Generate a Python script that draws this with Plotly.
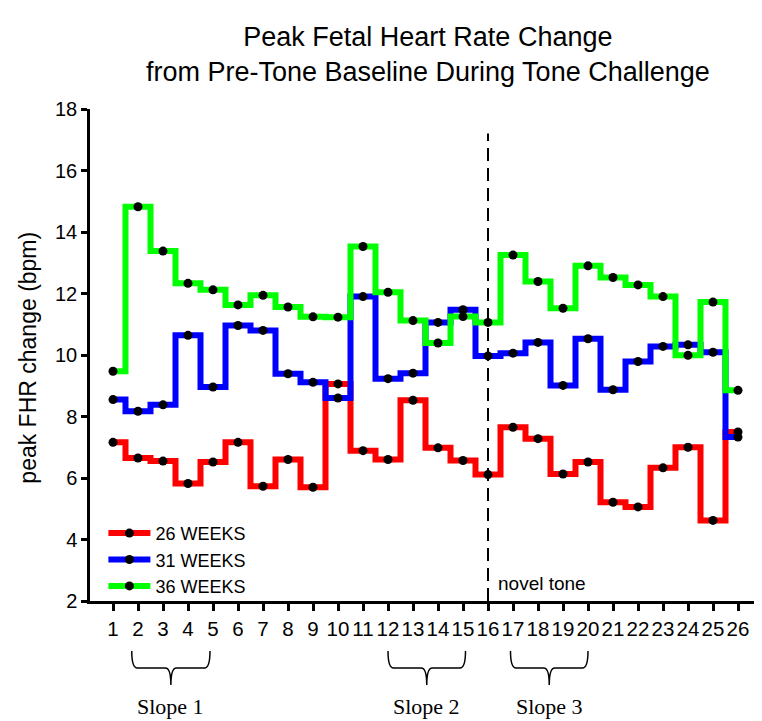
import plotly.graph_objects as go

# ---- data ----
trials = list(range(1, 27))
weeks26 = [7.16, 6.65, 6.55, 5.82, 6.52, 7.16, 5.73, 6.60, 5.70, 9.06, 6.89, 6.60, 8.53,
           6.98, 6.57, 6.11, 7.65, 7.28, 6.13, 6.52, 5.21, 5.06, 6.33, 7.00, 4.62, 7.50]
weeks31 = [8.55, 8.17, 8.38, 10.64, 8.96, 10.96, 10.80, 9.39, 9.11, 8.60, 11.90, 9.23, 9.41,
           11.06, 11.47, 9.97, 10.06, 10.41, 9.01, 10.53, 8.87, 9.79, 10.28, 10.33, 10.09, 7.33]
weeks36 = [9.47, 14.82, 13.38, 12.33, 12.12, 11.63, 11.94, 11.56, 11.24, 11.23, 13.53, 12.04, 11.12,
           10.39, 11.25, 11.06, 13.25, 12.39, 11.52, 12.90, 12.52, 12.28, 11.90, 9.99, 11.72, 8.85]
series_names = ["26 WEEKS", "31 WEEKS", "36 WEEKS"]
series_colors = ["#ff0000", "#0000ff", "#00ff00"]
y_ticks = [2, 4, 6, 8, 10, 12, 14, 16, 18]
novel_tone_trial = 16
novel_tone_top = 17.2
slope_labels = ["Slope 1", "Slope 2", "Slope 3"]
slope_starts = [1.75, 12.0, 16.9]
slope_ends = [4.88, 15.1, 20.0]

FONT = "Liberation Sans, Arial, sans-serif"
SERIF = "Liberation Serif, Times New Roman, serif"

fig = go.Figure()
for name, col, vals in zip(series_names, series_colors, [weeks26, weeks31, weeks36]):
    fig.add_trace(go.Scatter(
        x=trials, y=vals, name=name, mode="lines+markers",
        line=dict(color=col, width=6, shape="hvh"),
        marker=dict(color="black", size=9, line=dict(width=0)),
    ))

# dashed novel-tone marker
fig.add_shape(type="line", xref="x", yref="y", x0=novel_tone_trial, x1=novel_tone_trial,
              y0=y_ticks[0], y1=novel_tone_top, line=dict(color="black", width=2, dash="13px,7px"))
fig.add_annotation(x=novel_tone_trial + 0.3, y=2.58, xref="x", yref="y", text="novel tone",
                   showarrow=False, xanchor="left", yanchor="middle",
                   font=dict(family=FONT, size=19, color="black"))

# braces
yTop, yMid, yTip = -0.1016, -0.136, -0.1707
r = 0.22
for lab, s, e in zip(slope_labels, slope_starts, slope_ends):
    c = (s + e) / 2
    path = (f"M {s},{yTop} Q {s},{yMid} {s + r},{yMid} L {c - r},{yMid} "
            f"Q {c},{yMid} {c},{yTip} Q {c},{yMid} {c + r},{yMid} L {e - r},{yMid} "
            f"Q {e},{yMid} {e},{yTop}")
    fig.add_shape(type="path", xref="x", yref="paper", path=path,
                  line=dict(color="black", width=1.5))
    fig.add_annotation(x=c, y=-0.215, xref="x", yref="paper", text=lab, showarrow=False,
                       xanchor="center", yanchor="middle",
                       font=dict(family=SERIF, size=22, color="black"))

# y axis title
fig.add_annotation(x=-0.093, y=0.494, xref="paper", yref="paper", text="peak FHR change (bpm)",
                   textangle=-90, showarrow=False, xanchor="center", yanchor="middle",
                   font=dict(family=FONT, size=23, color="black"))

fig.update_layout(
    width=762, height=721,
    margin=dict(l=82, r=10, t=101, b=128, autoexpand=False),
    paper_bgcolor="white", plot_bgcolor="white",
    title=dict(text="Peak Fetal Heart Rate Change<br>from Pre-Tone Baseline During Tone Challenge",
               x=0.551, xanchor="center", y=0.947, yanchor="top",
               font=dict(family=FONT, size=27, color="black")),
    font=dict(family=FONT, color="black"),
    showlegend=True,
    legend=dict(x=0.02, y=0.175, xanchor="left", yanchor="top", bgcolor="rgba(0,0,0,0)",
                font=dict(family=FONT, size=18, color="black"), itemwidth=42,
                tracegroupgap=0),
    xaxis=dict(range=[0.08, 26.88], tickvals=trials, ticktext=[str(t) for t in trials],
               showline=True, linecolor="black", linewidth=2.5, ticks="outside", ticklen=7,
               tickwidth=2.5, tickcolor="black", showgrid=False, zeroline=False, automargin=False,
               tickfont=dict(family=FONT, size=20.5, color="black"), ticklabelstandoff=1),
    yaxis=dict(range=[2, 18], tickvals=y_ticks, showline=True, linecolor="black", linewidth=2.5,
               ticks="outside", ticklen=6, tickwidth=2.5, tickcolor="black", showgrid=False,
               zeroline=False, automargin=False,
               tickfont=dict(family=FONT, size=20, color="black")),
)

fig.write_html("out.html")
